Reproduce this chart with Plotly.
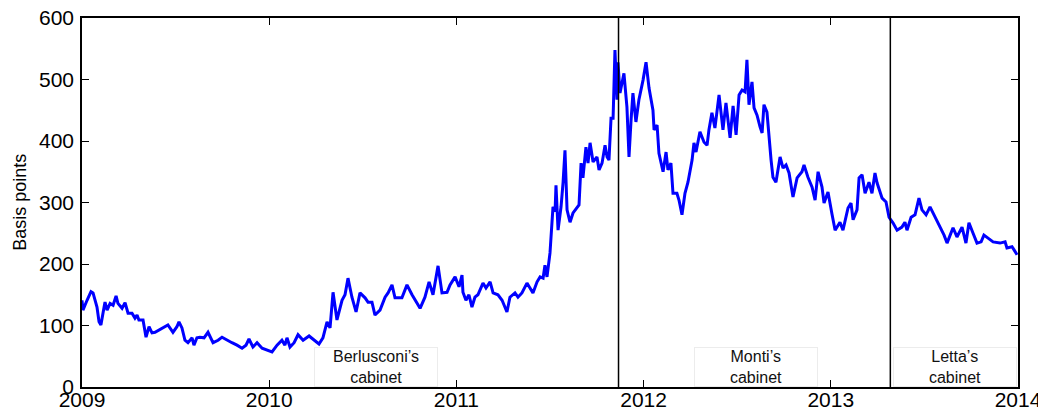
import plotly.graph_objects as go

# decimal year / spread in basis points
years = [
    2009.000, 2009.005, 2009.027, 2009.048, 2009.059, 2009.080, 2009.091, 2009.101, 2009.118, 2009.123,
    2009.134, 2009.150, 2009.166, 2009.182, 2009.192, 2009.214, 2009.230, 2009.246, 2009.267, 2009.283,
    2009.294, 2009.304, 2009.326, 2009.342, 2009.358, 2009.374, 2009.390, 2009.411, 2009.433, 2009.459,
    2009.486, 2009.507, 2009.518, 2009.534, 2009.550, 2009.566, 2009.588, 2009.598, 2009.614, 2009.630,
    2009.652, 2009.673, 2009.700, 2009.727, 2009.748, 2009.775, 2009.801, 2009.828, 2009.855, 2009.876,
    2009.892, 2009.913, 2009.935, 2009.962, 2009.988, 2010.015, 2010.042, 2010.068, 2010.084, 2010.095,
    2010.111, 2010.133, 2010.154, 2010.181, 2010.213, 2010.245, 2010.266, 2010.287, 2010.309, 2010.325,
    2010.341, 2010.362, 2010.389, 2010.405, 2010.421, 2010.442, 2010.464, 2010.485, 2010.512, 2010.528,
    2010.549, 2010.565, 2010.592, 2010.619, 2010.635, 2010.656, 2010.672, 2010.709, 2010.736, 2010.763,
    2010.790, 2010.806, 2010.832, 2010.854, 2010.875, 2010.902, 2010.923, 2010.950,
    2010.966, 2010.993, 2011.014, 2011.030, 2011.035, 2011.051, 2011.067, 2011.083, 2011.099, 2011.115,
    2011.142, 2011.158, 2011.180, 2011.196, 2011.222, 2011.244, 2011.270, 2011.286, 2011.313, 2011.329,
    2011.350, 2011.377, 2011.393, 2011.409, 2011.431, 2011.447, 2011.463, 2011.473, 2011.484, 2011.500,
    2011.516, 2011.527, 2011.532, 2011.543, 2011.559, 2011.570, 2011.580, 2011.591, 2011.607, 2011.623,
    2011.655, 2011.666, 2011.676, 2011.692, 2011.703, 2011.714, 2011.730, 2011.751, 2011.762, 2011.778,
    2011.794, 2011.805, 2011.815, 2011.826, 2011.837, 2011.847, 2011.858, 2011.863, 2011.874, 2011.895,
    2011.911, 2011.922, 2011.933, 2011.943, 2011.959, 2011.975, 2011.997, 2012.013, 2012.029, 2012.050,
    2012.056, 2012.072, 2012.082, 2012.104, 2012.120, 2012.130, 2012.146, 2012.157, 2012.178, 2012.189,
    2012.205, 2012.221, 2012.237, 2012.259, 2012.269, 2012.280, 2012.301, 2012.323, 2012.339, 2012.349,
    2012.365, 2012.381, 2012.403, 2012.424, 2012.440, 2012.462, 2012.478, 2012.494, 2012.510, 2012.526,
    2012.542, 2012.552, 2012.563, 2012.579, 2012.590, 2012.606, 2012.622, 2012.633, 2012.643, 2012.659,
    2012.681, 2012.691, 2012.707, 2012.729, 2012.745, 2012.761, 2012.777, 2012.798, 2012.820, 2012.846,
    2012.857, 2012.878, 2012.900, 2012.916, 2012.932, 2012.953, 2012.964, 2012.985, 2013.007, 2013.023,
    2013.049, 2013.065, 2013.092, 2013.108, 2013.119, 2013.140, 2013.151, 2013.167, 2013.183, 2013.204,
    2013.220, 2013.236, 2013.247, 2013.274, 2013.295, 2013.311, 2013.332, 2013.354, 2013.380, 2013.396,
    2013.407, 2013.429, 2013.450, 2013.471, 2013.487, 2013.509, 2013.530, 2013.557, 2013.583, 2013.605,
    2013.621, 2013.653, 2013.674, 2013.701, 2013.722, 2013.738, 2013.760, 2013.781, 2013.803, 2013.818,
    2013.840, 2013.867, 2013.904, 2013.931, 2013.941, 2013.968, 2013.979, 2013.995,
]
spread = [
    141, 125, 141, 155, 153, 130, 106, 101, 130, 138,
    125, 136, 133, 148, 136, 128, 137, 120, 120, 112,
    117, 109, 109, 81, 98, 88, 89, 93, 96, 101,
    89, 98, 106, 96, 76, 72, 80, 68, 80, 81,
    80, 89, 72, 76, 81, 76, 72, 68, 63, 68,
    78, 65, 72, 63, 60, 57, 68, 76, 68, 80,
    65, 72, 85, 76, 83, 75, 70, 80, 106, 96,
    154, 109, 141, 150, 177, 146, 122, 153, 145, 138,
    138, 117, 125, 146, 153, 166, 145, 145, 166, 150,
    137, 128, 146, 171, 150, 197, 153, 154,
    166, 179, 163, 182, 154, 141, 150, 130, 146, 150,
    169, 161, 171, 153, 150, 141, 122, 146, 153, 146,
    153, 169, 161, 153, 171, 179, 177, 198, 179, 218,
    293, 285, 328, 255, 293, 333, 385, 288, 268, 283,
    296, 364, 340, 390, 364, 397, 366, 374, 353, 364,
    393, 374, 369, 437, 437, 548, 467, 528, 478, 510,
    455, 374, 434, 478, 431, 467, 499, 528, 486, 450,
    418, 426, 380, 350, 382, 353, 364, 315, 315, 304,
    280, 315, 333, 369, 397, 382, 415, 398, 393, 418,
    446, 421, 475, 418, 462, 405, 457, 410, 475, 483,
    480, 532, 459, 496, 454, 442, 423, 413, 459, 447,
    369, 341, 333, 374, 356, 361, 348, 309, 340, 350,
    361, 341, 325, 304, 350, 325, 299, 317, 280, 255,
    268, 255, 291, 299, 272, 288, 340, 345, 315, 333,
    315, 348, 332, 307, 301, 276, 267, 255, 260, 268,
    255, 276, 280, 307, 288, 280, 293, 276, 260, 247,
    234, 259, 244, 260, 234, 267, 250, 234, 236, 247,
    242, 236, 234, 236, 226, 228, 223, 215,
]

year_ticks = [2009, 2010, 2011, 2012, 2013, 2014]
spread_ticks = [0, 100, 200, 300, 400, 500, 600]

# change of government (Monti sworn in Nov 2011, Letta Apr 2013)
cabinet_changes = [2011.866, 2013.318]
cabinet_names = ["Berlusconi’s<br>cabinet", "Monti’s<br>cabinet", "Letta’s<br>cabinet"]
cabinet_label_x = [2010.568, 2012.600, 2013.661]

font_family = "Liberation Sans, Arial, sans-serif"

fig = go.Figure()
fig.add_trace(go.Scatter(x=years, y=spread, mode="lines",
                         line=dict(color="#0000ff", width=3), showlegend=False))

for xc in cabinet_changes:
    fig.add_shape(type="line", xref="x", yref="y", x0=xc, x1=xc, y0=0, y1=600,
                  line=dict(color="black", width=1.5))

for name, xc in zip(cabinet_names, cabinet_label_x):
    fig.add_annotation(x=xc, y=32, xref="x", yref="y", text=name, showarrow=False,
                       font=dict(family=font_family, size=16, color="#111"),
                       bgcolor="white", bordercolor="#ececec", borderwidth=1,
                       borderpad=0, width=122)

fig.add_annotation(x=-0.067, y=0.5, xref="paper", yref="paper", text="Basis points",
                   textangle=-90, showarrow=False, xanchor="center", yanchor="middle",
                   font=dict(family=font_family, size=18, color="black"))

axis_style = dict(showline=True, linecolor="black", linewidth=1.5, mirror="ticks",
                  ticks="inside", ticklen=7, tickcolor="black", tickwidth=1,
                  showgrid=False, zeroline=False, automargin=False,
                  ticklabeloverflow="allow",
                  tickfont=dict(family=font_family, size=21, color="black"))

fig.update_xaxes(range=[2009, 2014], tickvals=year_ticks, ticktext=[str(y) for y in year_ticks],
                 ticklabelstandoff=-7, **axis_style)
fig.update_yaxes(range=[0, 600], tickvals=spread_ticks, ticklabelstandoff=2, **axis_style)

# the page body adds an 8px margin, so the figure is 8px smaller than the window
fig.update_layout(
    width=1038, height=402,
    margin=dict(l=74, r=28, t=10, b=23),
    paper_bgcolor="white",
    plot_bgcolor="white",
    font=dict(family=font_family, color="black"),
)

fig.write_html("out.html")
